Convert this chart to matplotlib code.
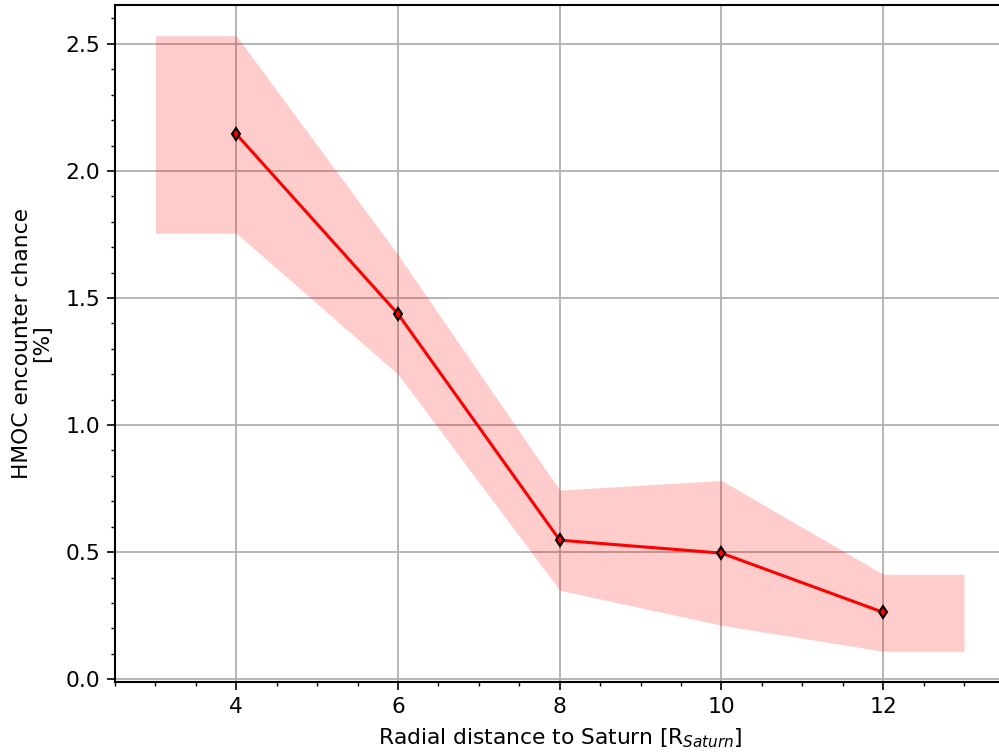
import matplotlib.pyplot as plt
from matplotlib.ticker import MultipleLocator

# radial bins and encounter chance
r = [4, 6, 8, 10, 12]
chance = [2.145, 1.437, 0.547, 0.496, 0.263]

# uncertainty band (edges stretched half a bin outwards)
band_r = [3, 4, 6, 8, 10, 12, 13]
band_lo = [1.755, 1.755, 1.20, 0.350, 0.212, 0.110, 0.110]
band_hi = [2.532, 2.532, 1.67, 0.744, 0.782, 0.413, 0.413]

plt.rcParams['font.size'] = 15.7

fig = plt.figure(figsize=(9.99, 7.53), dpi=100)
ax = fig.add_axes([0.1151, 0.0943, 0.8904, 0.8991])

ax.fill_between(band_r, band_lo, band_hi, color='red', alpha=0.2, linewidth=0)
ax.plot(r, chance, color='red', lw=2.2, marker='d', ms=6.5,
        mfc='red', mec='black', mew=1.5, zorder=3)

ax.xaxis.set_major_locator(MultipleLocator(2))
ax.xaxis.set_minor_locator(MultipleLocator(0.5))
ax.yaxis.set_major_locator(MultipleLocator(0.5))
ax.yaxis.set_minor_locator(MultipleLocator(0.1))
ax.tick_params(which='major', length=5.5, width=1.2, pad=5)
ax.tick_params(which='minor', length=3, width=1.0)
for s in ax.spines.values():
    s.set_linewidth(1.5)

ax.grid(True, color='#b0b0b0', lw=1.3)
ax.set_axisbelow(True)

ax.set_xlabel('Radial distance to Saturn [R$_{Saturn}$]', labelpad=7)
ax.set_ylabel('HMOC encounter chance\n[%]', linespacing=1.0, labelpad=10)

fig.savefig('out.png', dpi=100)
